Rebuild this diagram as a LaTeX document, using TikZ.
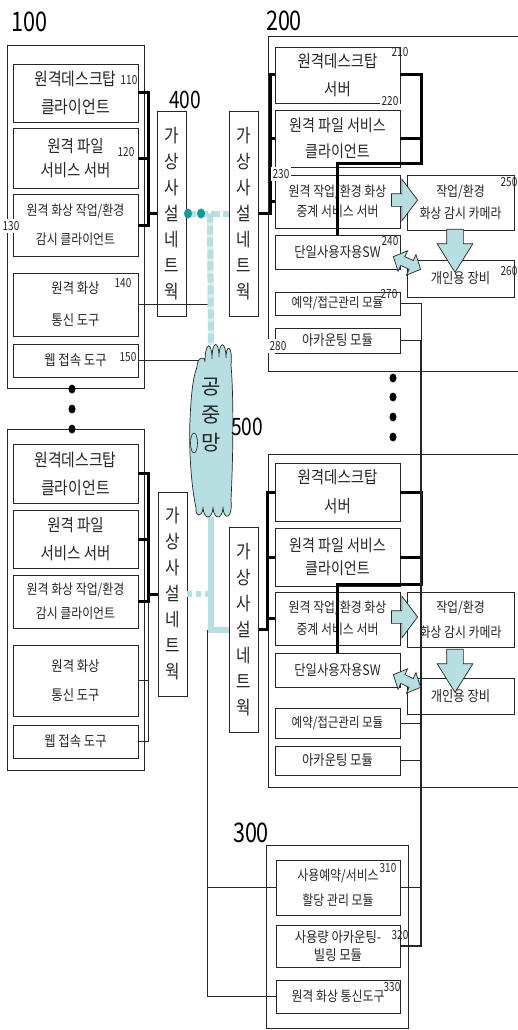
\documentclass[tikz,border=0pt]{standalone}
\usepackage{fontspec}
\usetikzlibrary{positioning,shapes.arrows}
\newfontfamily\kr[FakeStretch=0.85]{Noto Sans CJK KR}
\newfontfamily\krw{Noto Sans CJK KR}
\newfontfamily\numfont[FakeStretch=0.8]{Noto Sans CJK KR}
\definecolor{pnInk}{HTML}{262626}
\definecolor{pnTeal}{HTML}{B7DEE1}
\definecolor{pnDark}{HTML}{12999A}
\tikzset{
  txt/.style 2 args={font=\kr\fontsize{#1}{#2}\selectfont},
  box/.style     ={draw=pnInk,line width=0.8pt,inner sep=0pt,align=center,text=pnInk},
  lbox/.style    ={box,minimum width=125pt},
  rbox/.style    ={box,minimum width=107pt},
  vpnbox/.style  ={box,minimum width=29pt,minimum height=205pt,txt={18.5}{26}},
  frame/.style   ={pnInk,line width=0.8pt},
  bus/.style     ={black,line width=3pt},
  wire/.style    ={pnInk,line width=0.9pt},
  tealbase/.style={pnTeal!50,line width=6pt},
  tealdash/.style={pnTeal,line width=6pt,dash pattern=on 9pt off 3pt},
  tealline/.style={pnTeal,line width=6pt},
  blk/.style     ={draw=pnInk,line width=0.7pt,fill=pnTeal},
  num/.style     ={font=\numfont\fontsize{12.5}{12.5}\selectfont,inner sep=0.5pt,text=pnInk},
  numw/.style    ={num,fill=white,inner sep=2pt},
  bignum/.style  ={font=\numfont\fontsize{27}{27}\selectfont,inner sep=0pt,text=black},
  midnum/.style  ={bignum,font=\numfont\fontsize{24}{24}\selectfont},
}

\begin{document}
\begin{tikzpicture}[x=1pt,y=-1pt]
\useasboundingbox (0,0) rectangle (517,1030);

% ── terminal 100 ───────────────────────────────────────────────────────────
\node[bignum] (l100) at (29.5,22) {100};
\draw[frame] (7,45) rectangle (144,388);
\node[lbox,txt={17.5}{28},minimum height=58pt] (b110) at (75.5,93)    {원격데스크탑\\클라이언트};
\node[lbox,txt={17}{24},minimum height=60pt]   (b120) at (75.5,158)   {원격 파일\\서비스 서버};
\node[lbox,txt={14}{29},minimum height=62pt]   (b130) at (75.5,225)   {원격 화상 작업/환경\\감시 클라이언트};
\node[lbox,txt={14.5}{32},minimum height=63pt] (b140) at (75.5,304.5) {원격 화상\\통신 도구};
\node[lbox,txt={14.5}{16},minimum height=33pt] (b150) at (75.5,360.5) {웹 접속 도구};
\node[num] (n110) at (129,80)  {110};
\node[num] (n120) at (126,152) {120};
\node[num] (n140) at (123,283) {140};
\node[num] (n150) at (128,357) {150};

% ── terminal 100, second ───────────────────────────────────────────────────
\draw[frame] (7,429) rectangle (144,770);
\node[lbox,txt={17.5}{28},minimum height=59pt] (c110) at (75.5,473.5) {원격데스크탑\\클라이언트};
\node[lbox,txt={17}{28},minimum height=58pt]   (c120) at (75.5,539)   {원격 파일\\서비스 서버};
\node[lbox,txt={14}{24},minimum height=53pt]   (c130) at (75.5,601.5) {원격 화상 작업/환경\\감시 클라이언트};
\node[lbox,txt={14.5}{29},minimum height=71pt] (c140) at (75.5,680.5) {원격 화상\\통신 도구};
\node[lbox,txt={14.5}{16},minimum height=33pt] (c150) at (75.5,741.5) {웹 접속 도구};

% ── VPN 400 ────────────────────────────────────────────────────────────────
\node[midnum] (l400) at (185,100) {400};
\node[vpnbox] (v1) at (172,213.5)  {가\\상\\사\\설\\네\\트\\웍};
\node[vpnbox] (v2) at (243.5,213.5) {가\\상\\사\\설\\네\\트\\웍};
\node[vpnbox,minimum height=204pt] (v3) at (172.5,594) {가\\상\\사\\설\\네\\트\\웍};
\node[vpnbox] (v4) at (244,629.5)  {가\\상\\사\\설\\네\\트\\웍};

% ── server 200 ─────────────────────────────────────────────────────────────
\node[bignum] (l200) at (284,21) {200};
\draw[frame] (525,36) -- (268,36) -- (268,371) -- (525,371);
\node[lbox,txt={17}{28},minimum height=56pt]   (d210) at (337.5,75)    {원격데스크탑\\서버};
\node[lbox,txt={16.5}{26},minimum height=57pt] (d220) at (337.5,138.5) {원격 파일 서비스\\클라이언트};
\node[lbox,txt={14}{20},minimum height=53pt]   (d230) at (337.5,201.5) {원격 작업/환경 화상\\중계 서비스 서버};
\node[lbox,txt={14.5}{16},minimum height=34pt] (d240) at (337.5,252)   {단일사용자용SW};
\node[rbox,txt={14}{22},minimum height=55pt]   (d250) at (460.5,202.5) {작업/환경\\화상 감시 카메라};
\node[rbox,txt={14.5}{16},minimum height=37pt] (d260) at (460.5,278.5) {개인용 장비};
\node[lbox,txt={13.5}{16},minimum height=23pt] (d270) at (337.5,303.5) {예약/접근관리 모듈};
\node[lbox,txt={14.5}{16},minimum height=25pt] (d280) at (337.5,340.5) {아카운팅 모듈};
\node[num] (n210) at (400,52)  {210};
\node[num] (n240) at (390,241) {240};
\node[num] (n250) at (509,182) {250};
\node[num] (n260) at (509,271) {260};
\node[num] (n270) at (389,294) {270};

% ── server 200, second ─────────────────────────────────────────────────────
\draw[frame] (525,454) -- (268,454) -- (268,787) -- (525,787);
\node[lbox,txt={17}{29},minimum height=58pt]   (e210) at (337.5,492)   {원격데스크탑\\서버};
\node[lbox,txt={16.5}{23},minimum height=58pt] (e220) at (337.5,557)   {원격 파일 서비스\\클라이언트};
\node[lbox,txt={14}{22},minimum height=53pt]   (e230) at (337.5,618.5) {원격 작업/환경 화상\\중계 서비스 서버};
\node[lbox,txt={14.5}{16},minimum height=34pt] (e240) at (337.5,670)   {단일사용자용SW};
\node[rbox,txt={14}{25},minimum height=55pt]   (e250) at (460.5,619.5) {작업/환경\\화상 감시 카메라};
\node[rbox,txt={14.5}{16},minimum height=36pt] (e260) at (460.5,696)   {개인용 장비};
\node[lbox,txt={13.5}{16},minimum height=30pt] (e270) at (337.5,723)   {예약/접근관리 모듈};
\node[lbox,txt={14.5}{16},minimum height=29pt] (e280) at (337.5,760.5) {아카운팅 모듈};

% ── management 300 ─────────────────────────────────────────────────────────
\node[bignum] (l300) at (251,833) {300};
\draw[frame] (266,845) rectangle (408,1028);
\node[box,minimum width=124pt,txt={14}{25},minimum height=55pt]   (f310) at (338,887.5) {사용예약/서비스\\할당 관리 모듈};
\node[box,minimum width=124pt,txt={14.5}{18},minimum height=42pt] (f320) at (338,946)   {사용량 아카운팅-\\빌링 모듈};
\node[box,minimum width=124pt,txt={14}{16},minimum height=33pt]   (f330) at (338,996.5) {원격 화상 통신도구};
\node[num] (n310) at (388,868) {310};
\node[num] (n320) at (400,935) {320};
\node[num] (n330) at (392,987) {330};

% ── buses ──────────────────────────────────────────────────────────────────
\coordinate (j1) at (148,213.5);
\draw[bus] (b110.east) -- (b110.east -| j1) -- (b130.east -| j1) -- (b130.east);
\draw[bus] (b120.east) -- (b120.east -| j1);
\draw[bus] (j1) -- (v1.west);

\coordinate (j7) at (148,594);
\draw[bus] (c110.east) -- (c110.east -| j7) -- (c130.east -| j7) -- (c130.east);
\draw[bus] (c120.east) -- (c120.east -| j7);
\draw[bus] (j7) -- (v3.west);
\draw[wire] (c150.east) -- (c150.east -| j7) -- (c130.east -| j7);
\draw[wire] (c140.east) -- (c140.east -| j7);

\coordinate (j2) at (270,213.5);
\draw[bus] (d210.west) -- (d210.west -| j2) -- (j2) -- (v2.east);
\draw[bus] (d220.west) -- (d220.west -| j2);
\draw[bus] (d230.west) -- (d230.west -| j2);
\coordinate (j3) at (421,163);
\draw[bus] (d210.east) -- (d210.east -| j3) -- (j3) -- (j3 -| d240.north) -- (d240.north);
\draw[bus] (d220.east) -- (d220.east -| j3);

\coordinate (j6) at (267,629.5);
\draw[bus] (e210.west) -- (e210.west -| j6) -- (j6) -- (v4.east);
\draw[bus] (e220.west) -- (e220.west -| j6);
\draw[bus] (e230.west) -- (e230.west -| j6);
\coordinate (j5) at (421,584);
\draw[bus] (e210.east) -- (e210.east -| j5) -- (j5) -- (j5 -| e240.north) -- (e240.north);
\draw[bus] (e220.east) -- (e220.east -| j5);

% ── management wires ───────────────────────────────────────────────────────
\coordinate (j4) at (421,303.5);
\draw[wire] (d270.east) -- (j4) -- (d280.east -| j4) -- (d280.east);
\draw[wire,line width=1.5pt] (d280.east -| j4) -- (f320.east -| j4) -- (f320.east);
\draw[wire] (f310.east) -- (f310.east -| j4);
\draw[wire] (e270.east) -- (e270.east -| j4);
\draw[wire] (e280.east) -- (e280.east -| j4);

\coordinate (t1) at (210,213.5);
\coordinate (t2) at (207,629.5);
\coordinate (n150) at (204,360.5);
\draw[wire] (b140.east) -- (b140.east -| t1);
\draw[wire] (b150.east) -- (n150);
\draw[wire] (t2) -- (t2 |- f330.west) -- (f330.west);
\draw[wire] (f310.west -| t2) -- (f310.west);

% ── public network 500 ─────────────────────────────────────────────────────
\node[minimum width=42pt,minimum height=172pt,inner sep=0pt] (net) at (211,431) {};

\draw[tealbase] (t1) -- (net.north);
\draw[tealdash] (t1) -- (net.north);
\draw[tealdash] (v1.east) -- (v2.west);
\fill[pnDark] (188,213.5) ellipse (4pt and 5pt);
\fill[pnDark] (201,213.5) ellipse (4pt and 5pt);
\draw[tealline] (net.south) -- (net.south |- v4.west) -- (v4.west);
\draw[tealline,dash pattern=on 5pt off 4pt] (v3.east) -- (v3.east -| net.south);

\draw[pnInk,line width=0.7pt,fill=pnTeal]
  (196,508) .. controls (190,480) and (189,440) .. (190,420)
  .. controls (191,395) and (193,377) .. (197,367)
  .. controls (197,357) and (205,355) .. (205,362)
  .. controls (205,341) and (212,341) .. (212,359)
  .. controls (212,340) and (219,340) .. (219,357)
  .. controls (219,340) and (226,341) .. (226,358)
  .. controls (226,343) and (233,345) .. (231,365)
  .. controls (234,400) and (233,460) .. (231,500)
  .. controls (233,519) and (224,521) .. (223,508)
  .. controls (222,520) and (214,520) .. (213,508)
  .. controls (212,520) and (204,520) .. (203,508)
  .. controls (202,518) and (195,517) .. (196,508) -- cycle;
\draw[pnInk,line width=0.6pt,fill=pnTeal] (194,443) ellipse (3.5pt and 10pt);
\node[font=\krw\fontsize{21}{28}\selectfont,align=center,inner sep=0pt,text=pnInk] (netlbl) at (211,415) {공\\중\\망};
\node[midnum] (l500) at (247,427) {500};

% ── camera / device arrows ─────────────────────────────────────────────────
\node[blk,single arrow,anchor=tip,minimum height=26pt,inner sep=6pt,
      single arrow head extend=14.5pt,single arrow tip angle=106] (a1) at (418,200) {};
\node[blk,single arrow,anchor=tip,rotate=-90,minimum height=43pt,inner sep=8pt,
      single arrow head extend=9.5pt,single arrow tip angle=64] (a2) at (455,273) {};
\node[blk,double arrow,rotate=-25,minimum height=30pt,inner sep=4.5pt,
      double arrow head extend=6.5pt,double arrow tip angle=95] (a3) at (407,263) {};
\node[blk,single arrow,anchor=tip,minimum height=26pt,inner sep=6pt,
      single arrow head extend=14.5pt,single arrow tip angle=106] (a4) at (418,617) {};
\node[blk,single arrow,anchor=tip,rotate=-90,minimum height=43pt,inner sep=8pt,
      single arrow head extend=9.5pt,single arrow tip angle=64] (a5) at (455,693) {};
\node[blk,double arrow,rotate=-25,minimum height=30pt,inner sep=4.5pt,
      double arrow head extend=6.5pt,double arrow tip angle=95] (a6) at (407,681) {};

% ── labels over edges ──────────────────────────────────────────────────────
\node[numw] (n130) at (11,226)  {130};
\node[numw] (n220) at (390,101) {220};
\node[numw] (n230) at (281,174) {230};
\node[numw] (n280) at (278,346) {280};

% ── ellipsis dots ──────────────────────────────────────────────────────────
\foreach \y in {389,409,429} \fill (72,\y) ellipse (3.5pt and 4.5pt);
\foreach \y in {378,397,417,437} \fill (393,\y) ellipse (3.5pt and 4.5pt);
\end{tikzpicture}
\end{document}
